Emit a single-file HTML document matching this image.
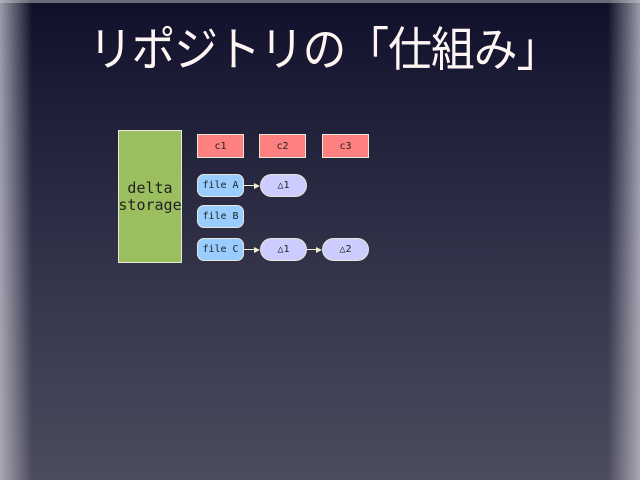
<!DOCTYPE html>
<html><head><meta charset="utf-8"><style>
body{margin:0;width:640px;height:480px;overflow:hidden;position:relative;
background:linear-gradient(180deg,#10102a 0%,#20203a 25%,#38384e 65%,#4c4c5e 100%);
font-family:"Liberation Sans","Noto Sans CJK JP",sans-serif;}
.vl{position:absolute;top:0;bottom:0;width:32px}
.l{left:0;background:linear-gradient(90deg,rgba(200,200,210,.75),rgba(200,200,210,0))}
.r{right:0;background:linear-gradient(270deg,rgba(200,200,210,.75),rgba(200,200,210,0))}
.top{position:absolute;left:0;right:0;top:0;height:3px;background:#6a6a78}
h1{position:absolute;left:0;width:640px;top:16px;margin:0;text-align:center;color:#fff6f4;font-weight:normal;font-size:47px;line-height:60px;letter-spacing:-1px;font-family:"Noto Sans CJK JP",sans-serif;transform:translateX(4px) scaleX(0.93)}
.b{position:absolute;box-sizing:border-box;display:flex;align-items:center;justify-content:center;font-family:"DejaVu Sans Mono","Liberation Mono",monospace;font-size:10px;color:#222;border:1px solid #e8e8d8}
.g{left:118px;top:130px;width:64px;height:133px;background:#9bbf5f;font-size:15px;line-height:17px;text-align:center}
.c{top:134px;width:47px;height:24px;background:#ff8080}
.f{left:197px;width:47px;height:23px;background:#99ccff;border-radius:7px}
.d{width:47px;height:23px;background:#ccccff;border-radius:12px}
.a{position:absolute;height:1px;background:#f0f0d0}
.h{position:absolute;width:0;height:0;border-top:3px solid transparent;border-bottom:3px solid transparent;border-left:6px solid #f0f0d0}
</style></head><body>
<div class="top"></div><div class="vl l"></div><div class="vl r"></div>
<h1>リポジトリの「仕組み」</h1>
<div class="b g">delta<br>storage</div>
<div class="b c" style="left:197px">c1</div>
<div class="b c" style="left:259px">c2</div>
<div class="b c" style="left:322px">c3</div>
<div class="b f" style="top:174px">file A</div>
<div class="b f" style="top:205px">file B</div>
<div class="b f" style="top:238px">file C</div>
<div class="b d" style="left:260px;top:174px">△1</div>
<div class="b d" style="left:260px;top:238px">△1</div>
<div class="b d" style="left:322px;top:238px">△2</div>
<div class="a" style="left:244px;width:10px;top:185px"></div><div class="h" style="left:254px;top:183px"></div>
<div class="a" style="left:244px;width:10px;top:249px"></div><div class="h" style="left:254px;top:247px"></div>
<div class="a" style="left:307px;width:9px;top:249px"></div><div class="h" style="left:316px;top:247px"></div>
</body></html>
